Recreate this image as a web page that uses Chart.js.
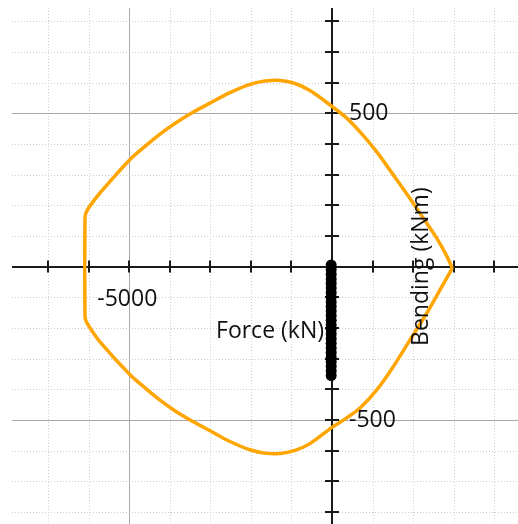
<!DOCTYPE html>
<html>
<head>
<meta charset="utf-8">
<title>Interaction diagram</title>
<script src="https://cdn.jsdelivr.net/npm/chart.js@4.4.1/dist/chart.umd.min.js"></script>
<style>
    html, body { margin: 0; padding: 0; background: #ffffff; }
    canvas { display: block; }
</style>
</head>
<body>
<canvas id="chart" width="518" height="524"></canvas>
<script>
// capacity curve (closed loop), force in kN, bending in kNm
const curve_force = [2967, 2829, 2583, 2252, 1924, 1512, 1103, 691, 363, 0, -543, -913, -1283, -1653, -2023, -2516, -3009, -3429, -3848, -4243, -4613, -5000, -5723, -5969, -6068, -6093, -6093,
    -6068, -5969, -5723, -5000, -4613, -4243, -3848, -3429, -3009, -2516, -2023, -1653, -1283, -913, -543, 0, 363, 691, 1103, 1512, 1924, 2336, 2664, 2967];
const curve_moment = [-5, 35, 93, 158, 222, 299, 374, 439, 484, 522, 574, 597, 607, 605, 594, 567, 533, 503, 469, 432, 392, 347, 240, 198, 175, 158, -161,
    -177, -200, -245, -350, -395, -435, -472, -505, -535, -570, -597, -608, -609, -599, -577, -524, -493, -461, -402, -326, -239, -152, -76, -5];

// load points (black dots)
const load_force = [-20, -20, -20, -20, -20, -20, -20, -20, -20, -20, -20, -20, -20, -20, -20, -20, -20, -20, -20, -20, -20, -20, -20, -20, -20];
const load_moment = [5, -10, -25, -40, -55, -70, -85, -100, -115, -130, -145, -160, -175, -190, -205, -220, -235, -250, -265, -280, -295, -310, -325, -340, -355];

// axis ticks / labels
const x_ticks = [-7000, -6000, -5000, -4000, -3000, -2000, -1000, 1000, 2000, 3000, 4000];
const y_ticks = [-800, -700, -600, -500, -400, -300, -200, -100, 100, 200, 300, 400, 500, 600, 700, 800];
const x_major = [-5000];
const y_major = [500, -500];
const x_labels = ['-5000'];
const y_labels = ['500', '-500'];
const x_title = 'Force (kN)';
const y_title = 'Bending (kNm)';

const FONT = '23px "Open Sans", "Noto Sans", sans-serif';

function toPoints(xs, ys) {
    return xs.map((v, i) => ({ x: v, y: ys[i] }));
}

// draws grid + cross axes through the origin
const crossAxes = {
    id: 'crossAxes',
    beforeDatasetsDraw(chart) {
        const ctx = chart.ctx;
        const area = chart.chartArea;
        const xs = chart.scales.x;
        const ys = chart.scales.y;
        const x0 = xs.getPixelForValue(0);
        const y0 = ys.getPixelForValue(0);
        ctx.save();

        // dotted minor grid
        ctx.strokeStyle = '#cfcfcf';
        ctx.lineWidth = 1;
        ctx.setLineDash([1, 2]);
        x_ticks.forEach(v => {
            if (x_major.includes(v)) return;
            const px = Math.round(xs.getPixelForValue(v)) + 0.5;
            ctx.beginPath(); ctx.moveTo(px, area.top); ctx.lineTo(px, area.bottom); ctx.stroke();
        });
        y_ticks.forEach(v => {
            if (y_major.includes(v)) return;
            const py = Math.round(ys.getPixelForValue(v)) + 0.5;
            ctx.beginPath(); ctx.moveTo(area.left, py); ctx.lineTo(area.right, py); ctx.stroke();
        });

        // solid major grid
        ctx.setLineDash([]);
        ctx.strokeStyle = '#a8a8a8';
        x_major.forEach(v => {
            const px = Math.round(xs.getPixelForValue(v)) + 0.5;
            ctx.beginPath(); ctx.moveTo(px, area.top); ctx.lineTo(px, area.bottom); ctx.stroke();
        });
        y_major.forEach(v => {
            const py = Math.round(ys.getPixelForValue(v)) + 0.5;
            ctx.beginPath(); ctx.moveTo(area.left, py); ctx.lineTo(area.right, py); ctx.stroke();
        });

        // axis lines
        ctx.strokeStyle = '#1a1a1a';
        ctx.lineWidth = 2;
        ctx.beginPath(); ctx.moveTo(area.left, Math.round(y0)); ctx.lineTo(area.right, Math.round(y0)); ctx.stroke();
        ctx.beginPath(); ctx.moveTo(Math.round(x0), area.top); ctx.lineTo(Math.round(x0), area.bottom); ctx.stroke();

        // tick marks
        x_ticks.forEach(v => {
            const px = Math.round(xs.getPixelForValue(v));
            ctx.beginPath(); ctx.moveTo(px, y0 - 6); ctx.lineTo(px, y0 + 6); ctx.stroke();
        });
        y_ticks.forEach(v => {
            const py = Math.round(ys.getPixelForValue(v));
            ctx.beginPath(); ctx.moveTo(x0 - 7, py); ctx.lineTo(x0 + 7, py); ctx.stroke();
        });
        ctx.restore();
    },
    afterDatasetsDraw(chart) {
        const ctx = chart.ctx;
        const xs = chart.scales.x;
        const ys = chart.scales.y;
        const x0 = xs.getPixelForValue(0);
        const y0 = ys.getPixelForValue(0);
        ctx.save();
        ctx.fillStyle = '#111111';
        ctx.font = FONT;

        // tick labels
        ctx.textAlign = 'center';
        ctx.textBaseline = 'middle';
        x_major.forEach((v, i) => {
            ctx.fillText(x_labels[i], xs.getPixelForValue(v) - 2, y0 + 33);
        });
        ctx.textAlign = 'left';
        y_major.forEach((v, i) => {
            ctx.fillText(y_labels[i], x0 + 17, ys.getPixelForValue(v));
        });

        // axis titles
        ctx.textAlign = 'right';
        ctx.fillText(x_title, x0 - 8, y0 + 65);

        ctx.translate(xs.getPixelForValue(2200), y0);
        ctx.rotate(-Math.PI / 2);
        ctx.textAlign = 'center';
        ctx.fillText(y_title, 0, 0);
        ctx.restore();
    }
};

function Interaction_chart() {
    const data = {
        datasets: [{
            label: 'Capacity',
            data: toPoints(curve_force, curve_moment),
            showLine: true,
            borderColor: '#ffa500',
            borderWidth: 3.5,
            pointRadius: 0,
            fill: false,
            tension: 0.35
        }, {
            label: 'Loads',
            data: toPoints(load_force, load_moment),
            showLine: false,
            pointRadius: 5.5,
            pointBackgroundColor: '#000000',
            pointBorderColor: '#000000',
            pointBorderWidth: 0
        }]
    };

    const config = {
        type: 'scatter',
        data: data,
        options: {
            responsive: false,
            animation: false,
            layout: {
                autoPadding: false,
                padding: { left: 12, top: 8, right: 0, bottom: 0 }
            },
            plugins: {
                legend: { display: false },
                tooltip: { enabled: false }
            },
            scales: {
                x: { display: false, min: -7893, max: 4588 },
                y: { display: false, min: -839, max: 843 }
            }
        },
        plugins: [crossAxes]
    };

    const ctx = document.getElementById('chart').getContext('2d');
    new Chart(ctx, config);
}

window.onload = function () {
    Interaction_chart();
};
</script>
</body>
</html>
